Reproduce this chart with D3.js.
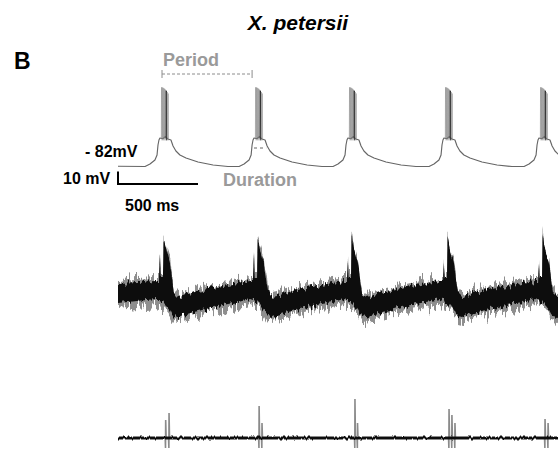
<!DOCTYPE html>
<html>
<head>
<meta charset="utf-8">
<script src="https://cdn.jsdelivr.net/npm/d3@7"></script>
<style>
  html, body { margin: 0; padding: 0; background: #fff; }
  svg { display: block; font-family: "Liberation Sans", Arial, Helvetica, sans-serif; }
</style>
</head>
<body>
<svg id="fig" width="558" height="450"></svg>
<script>
// ---- recording data -------------------------------------------------------
// shared time axis (ms) for the three simultaneous traces
const tMax = 2750;
const burstOnsets = [250, 838, 1425, 2025, 2619];

// intracellular membrane potential around each burst onset (ms, mV)
const vmT = [-81, -50, -19, -6, 0, 6, 12, 30, 45, 62, 81, 94, 112, 137, 175, 250, 344, 437];
const vmV = [-82.4, -80.4, -77.2, -73.2, -65.2, -61.2, -59.6, -60.2, -58.5, -60.4, -61.2, -66, -70, -73.2, -75.6, -78.8, -81.2, -82.4];
const vmRest = -82.2;
// action potentials riding each burst: offset (ms) and peak (mV)
const spikeT = [22, 27, 32, 37, 42, 47, 52, 58, 64];
const spikePeak = [-19, -19.1, -19.4, -19.8, -20.3, -21, -21.8, -22.8, -24];

// extracellular field trace envelope around each onset (ms, upper, lower; a.u.)
const exT   = [-12, 6, 12, 17, 31, 35, 44, 56, 75, 88, 100, 125, 156, 250, 375, 500];
const exTop = [14, 14, null, 17, 17, null, 50, 42, 32, 16, 2, -2, -1, 4, 8, 12];
const exBot = [-4, -5, -5, -7, -7, -8, -9, -11, -15, -19, -21, -22, -20, -16, -11, -7];
const exStart = [12, -8];
// per-burst peaks of the small precursor and the main deflection
const exPrePeak  = [42, 42, 35, 30, 32];
const exMainPeak = [55, 54, 60, 57, 63];

// unit recording: spike offsets (ms) and heights per burst (a.u.)
const unitT  = [[48, 69], [44, 62], [56, 72], [44, 62, 81], [50, 69]];
const unitUp = [[18, 25], [32, 15], [39, 15], [29, 23, 15], [19, 15]];
const unitDown = -10;

// ---- scales ---------------------------------------------------------------
const svg = d3.select("#fig");
const x = d3.scaleLinear().domain([0, tMax]).range([118, 558]);
const yTop = d3.scaleLinear().domain([-82, -18]).range([166, 86]);
const yMid = d3.scaleLinear().domain([0, 60]).range([295, 235]);
const yBot = d3.scaleLinear().domain([0, 40]).range([438, 398]);

// ---- filters giving the recordings their noisy texture --------------------
const defs = svg.append("defs");
function roughFilter(id, freq, scale, seed, y0, y1) {
  const f = defs.append("filter").attr("id", id)
    .attr("filterUnits", "userSpaceOnUse")
    .attr("x", 100).attr("y", y0).attr("width", 470).attr("height", y1 - y0);
  f.append("feTurbulence").attr("type", "fractalNoise")
    .attr("baseFrequency", freq).attr("numOctaves", 2).attr("seed", seed).attr("result", "n");
  f.append("feColorMatrix").attr("in", "n").attr("type", "matrix")
    .attr("values", "0 0 0 0 0.5  0 1 0 0 0  0 0 0 0 0  0 0 0 0 1").attr("result", "m");
  f.append("feDisplacementMap").attr("in", "SourceGraphic").attr("in2", "m")
    .attr("scale", scale).attr("xChannelSelector", "R").attr("yChannelSelector", "G");
}
roughFilter("roughWide", "0.45 0.03", 26, 4, 215, 345);
roughFilter("roughCore", "0.4 0.05", 12, 9, 215, 345);
roughFilter("roughThin", "0.35 0.05", 4, 2, 420, 455);

// ---- top: intracellular trace ---------------------------------------------
const vmPts = [[0, vmRest]];
burstOnsets.forEach(on => vmT.forEach((t, i) => vmPts.push([on + t, vmV[i]])));
const lineTop = d3.line().x(d => x(d[0])).y(d => yTop(d[1]));

svg.append("path").datum(vmPts)
  .attr("d", lineTop).attr("fill", "none")
  .attr("stroke", "#666").attr("stroke-width", 1.15).attr("stroke-linejoin", "round");

const spikeG = svg.append("g");
burstOnsets.forEach(on => {
  spikeT.forEach((st, i) => {
    const pts = [[on + st - 1.5, -60], [on + st, spikePeak[i]], [on + st + 1.8, -61.5]];
    const dark = i === 6;
    spikeG.append("path").datum(pts).attr("d", lineTop).attr("fill", "none")
      .attr("stroke", dark ? "#222" : "#777")
      .attr("stroke-opacity", dark ? 0.85 : 0.4)
      .attr("stroke-width", 1);
  });
});

// period marker between the first two bursts
const periodY = 74;
const pg = svg.append("g").attr("stroke", "#8c8c8c").attr("stroke-width", 1);
const p0 = x(burstOnsets[0] + 25), p1 = x(burstOnsets[1]);
pg.append("line").attr("x1", p0).attr("x2", p1).attr("y1", periodY).attr("y2", periodY)
  .attr("stroke-dasharray", "3,2");
pg.append("line").attr("x1", p0).attr("x2", p0).attr("y1", periodY - 4).attr("y2", periodY + 4);
pg.append("line").attr("x1", p1).attr("x2", p1).attr("y1", periodY - 4).attr("y2", periodY + 4);

// duration marker on the second burst
svg.append("line")
  .attr("x1", x(burstOnsets[1] + 12)).attr("x2", x(burstOnsets[1] + 88))
  .attr("y1", yTop(-67.6)).attr("y2", yTop(-67.6))
  .attr("stroke", "#666").attr("stroke-width", 1).attr("stroke-dasharray", "3,3");

// scale bar: 10 mV / 500 ms
const sbY = 184;
const sbH = yTop(-82) - yTop(-72);
svg.append("path")
  .attr("d", `M${x(0)},${sbY - sbH} V${sbY} H${x(500)}`)
  .attr("fill", "none").attr("stroke", "#000").attr("stroke-width", 2);

// ---- middle: extracellular field trace ------------------------------------
const exPts = [[0, exStart[0], exStart[1]]];
burstOnsets.forEach((on, b) => {
  exT.forEach((t, i) => {
    let top = exTop[i];
    if (i === 2) top = exPrePeak[b];
    if (i === 5) top = exMainPeak[b];
    exPts.push([on + t, top, exBot[i]]);
  });
});
const areaWide = d3.area().x(d => x(d[0])).y0(d => yMid(d[2] - 5)).y1(d => yMid(d[1] + 3));
const areaCore = d3.area().x(d => x(d[0])).y0(d => yMid(d[2])).y1(d => yMid(d[1]));

svg.append("path").datum(exPts).attr("d", areaWide)
  .attr("fill", "#8e8e8e").attr("filter", "url(#roughWide)");
svg.append("path").datum(exPts).attr("d", areaCore)
  .attr("fill", "#0d0d0d").attr("filter", "url(#roughCore)");

// ---- bottom: unit recording -----------------------------------------------
const lineBot = d3.line().x(d => x(d[0])).y(d => yBot(d[1]));
burstOnsets.forEach((on, b) => {
  unitT[b].forEach((st, i) => {
    const pts = [[on + st - 3, 0], [on + st - 1, unitDown], [on + st, unitUp[b][i]], [on + st + 3, 0]];
    svg.append("path").datum(pts).attr("d", lineBot).attr("fill", "none")
      .attr("stroke", "#8a8a8a").attr("stroke-width", 1.6);
  });
});
svg.append("path").datum([[0, 0], [tMax, 0]]).attr("d", lineBot)
  .attr("fill", "none").attr("stroke", "#111").attr("stroke-width", 3)
  .attr("filter", "url(#roughThin)");

// ---- labels ---------------------------------------------------------------
svg.append("text").attr("x", 298).attr("y", 30).attr("text-anchor", "middle")
  .attr("font-size", 21).attr("font-weight", "bold").attr("font-style", "italic")
  .text("X. petersii");
svg.append("text").attr("x", 14).attr("y", 69)
  .attr("font-size", 23).attr("font-weight", "bold").text("B");
svg.append("text").attr("x", 163).attr("y", 66)
  .attr("font-size", 18).attr("font-weight", "bold").attr("fill", "#9a9a9a").text("Period");
svg.append("text").attr("x", 223).attr("y", 186)
  .attr("font-size", 18).attr("font-weight", "bold").attr("fill", "#9a9a9a").text("Duration");
svg.append("text").attr("x", 85).attr("y", 157)
  .attr("font-size", 16).attr("font-weight", "bold").text("- 82mV");
svg.append("text").attr("x", 63).attr("y", 184)
  .attr("font-size", 16).attr("font-weight", "bold").text("10 mV");
svg.append("text").attr("x", 125).attr("y", 211)
  .attr("font-size", 16).attr("font-weight", "bold").text("500 ms");
</script>
</body>
</html>
